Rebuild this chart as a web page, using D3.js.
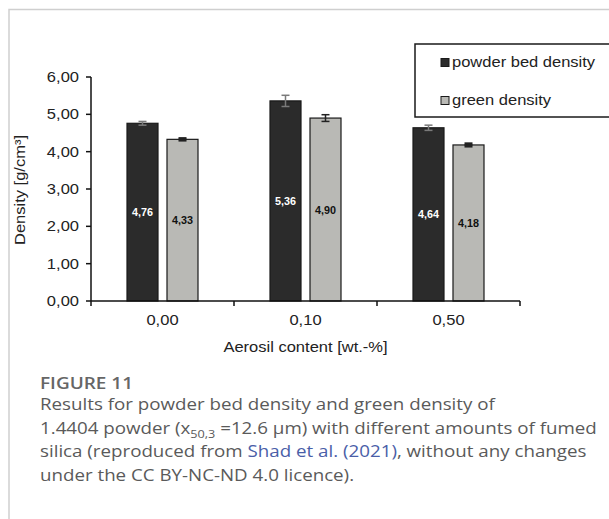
<!DOCTYPE html>
<html>
<head>
<meta charset="utf-8">
<script src="https://cdn.jsdelivr.net/npm/d3@7"></script>
<style>
  html, body { margin: 0; padding: 0; background: #fff; }
  svg { display: block; }
</style>
</head>
<body>
<script>
// Aerosil content levels and the two density series (g/cm³)
const categories = ["0,00", "0,10", "0,50"];
const seriesNames = ["powder bed density", "green density"];
const powderBedDensity = [4.76, 5.36, 4.64];
const greenDensity = [4.33, 4.90, 4.18];
const powderBedError = [0.05, 0.15, 0.07];
const greenError = [0.02, 0.09, 0.03];
const yTicks = [0, 1, 2, 3, 4, 5, 6];
const captionTitle = "FIGURE 11";

const W = 609, H = 519;
const svg = d3.select("body").append("svg").attr("width", W).attr("height", H);

const fmt = v => d3.format(".2f")(v).replace(".", ",");
const chartFont = "'Liberation Sans', Arial, sans-serif";
const SX = 1.18; // wide-set chart lettering

// panel frame (top and left rules)
svg.append("path")
  .attr("d", `M9,${H} L9,9.5 L${W},9.5`)
  .attr("fill", "none").attr("stroke", "#cfcfcf").attr("stroke-width", 1.5);

const x0 = d3.scaleBand().domain(categories).range([91, 520]).paddingInner(0).paddingOuter(0);
const x1 = d3.scaleBand().domain(seriesNames).range([0, x0.bandwidth()])
  .paddingInner(0.225).paddingOuter(0.9);
const y = d3.scaleLinear().domain([0, 6]).range([301, 77]);

const colors = { "powder bed density": "#2b2b2b", "green density": "#b9b9b5" };
const errColors = { "powder bed density": "#7a7a7a", "green density": "#222" };
const labelColors = { "powder bed density": "#ffffff", "green density": "#111" };

const rows = categories.map((c, i) => ({
  cat: c,
  vals: [
    { s: seriesNames[0], v: powderBedDensity[i], e: powderBedError[i] },
    { s: seriesNames[1], v: greenDensity[i], e: greenError[i] }
  ]
}));

function stext(g, x, yy, str, opts) {
  const t = g.append("text")
    .attr("transform", `translate(${x},${yy}) scale(${opts.sx || SX},1)`)
    .attr("font-family", opts.family || chartFont)
    .attr("font-size", opts.size || 14)
    .attr("font-weight", opts.weight || "normal")
    .attr("fill", opts.fill || "#222")
    .attr("text-anchor", opts.anchor || "start")
    .text(str);
  return t;
}

// bars
const groups = svg.append("g").selectAll("g").data(rows).join("g")
  .attr("transform", d => `translate(${x0(d.cat)},0)`);

groups.selectAll("rect").data(d => d.vals).join("rect")
  .attr("x", d => x1(d.s))
  .attr("y", d => y(d.v))
  .attr("width", x1.bandwidth())
  .attr("height", d => y(0) - y(d.v))
  .attr("fill", d => colors[d.s])
  .attr("stroke", "#1a1a1a").attr("stroke-width", 1.2);

// error bars
groups.each(function(d) {
  const g = d3.select(this);
  d.vals.forEach(v => {
    const cx = x1(v.s) + x1.bandwidth() / 2;
    const c = errColors[v.s];
    const sw = v.e < 0.04 ? 3 : 1.5;
    g.append("line").attr("x1", cx).attr("x2", cx)
      .attr("y1", y(v.v + v.e)).attr("y2", y(v.v - v.e))
      .attr("stroke", c).attr("stroke-width", 1.5);
    [v.v + v.e, v.v - v.e].forEach(yy => {
      g.append("line").attr("x1", cx - 4).attr("x2", cx + 4)
        .attr("y1", y(yy)).attr("y2", y(yy))
        .attr("stroke", c).attr("stroke-width", sw);
    });
    // value label at mid-height of the bar
    stext(g, cx, y(v.v / 2) + 4, fmt(v.v), {
      size: 10, weight: "bold", anchor: "middle", fill: labelColors[v.s], sx: 1.08
    });
  });
});

// y axis
const yAxis = svg.append("g").attr("transform", "translate(91,0)");
yAxis.append("line").attr("x1", 0).attr("x2", 0).attr("y1", y(0)).attr("y2", y(6))
  .attr("stroke", "#111").attr("stroke-width", 1.5);
yTicks.forEach(t => {
  yAxis.append("line").attr("x1", -5).attr("x2", 0).attr("y1", y(t)).attr("y2", y(t))
    .attr("stroke", "#111").attr("stroke-width", 1.5);
  stext(yAxis, -12, y(t) + 5, fmt(t), { anchor: "end" });
});

// x axis
const xAxis = svg.append("g");
xAxis.append("line").attr("x1", 91).attr("x2", 520).attr("y1", y(0)).attr("y2", y(0))
  .attr("stroke", "#111").attr("stroke-width", 1.5);
const boundaries = categories.map(c => x0(c)).concat([x0(categories[categories.length - 1]) + x0.bandwidth()]);
boundaries.forEach(b => {
  xAxis.append("line").attr("x1", b).attr("x2", b).attr("y1", y(0)).attr("y2", y(0) + 5)
    .attr("stroke", "#111").attr("stroke-width", 1.5);
});
categories.forEach(c => {
  stext(xAxis, x0(c) + x0.bandwidth() / 2, 325, c, { anchor: "middle" });
});
stext(svg, 305.5, 352, "Aerosil content [wt.-%]", { anchor: "middle" });

// y title
const yt = svg.append("g").attr("transform", "translate(25,190) rotate(-90)");
stext(yt, 0, 0, "Density [g/cm³]", { anchor: "middle" });

// legend
const lg = svg.append("g");
lg.append("rect").attr("x", 415).attr("y", 44).attr("width", 220).attr("height", 73)
  .attr("fill", "#fff").attr("stroke", "#1a1a1a").attr("stroke-width", 1.5);
seriesNames.forEach((s, i) => {
  const yy = 67 + i * 38;
  lg.append("rect").attr("x", 441).attr("y", yy - 8.5).attr("width", 8).attr("height", 8)
    .attr("fill", colors[s]).attr("stroke", "#1a1a1a").attr("stroke-width", 1);
  stext(lg, 452, yy, s, {});
});

// caption
const capFont = "'Open Sans', 'Noto Sans', sans-serif";
const CSX = 1.15;
svg.append("text").attr("transform", `translate(40,389) scale(${CSX},1)`)
  .attr("font-family", capFont).attr("font-size", 16.5).attr("font-weight", 600)
  .attr("fill", "#666").text(captionTitle);

const capLines = [
  [{ t: "Results for powder bed density and green density of" }],
  [{ t: "1.4404 powder (x" }, { t: "50,3", sub: true }, { t: " =12.6 μm) with different amounts of fumed" }],
  [{ t: "silica (reproduced from " }, { t: "Shad et al. (2021)", link: true }, { t: ", without any changes" }],
  [{ t: "under the CC BY-NC-ND 4.0 licence)." }]
];
capLines.forEach((parts, i) => {
  const t = svg.append("text")
    .attr("transform", `translate(40,${410 + i * 23.5}) scale(${CSX},1)`)
    .attr("font-family", capFont).attr("font-size", 16.3).attr("fill", "#5a5a5a");
  parts.forEach(p => {
    const ts = t.append("tspan").text(p.t);
    if (p.link) ts.attr("fill", "#4a5ea8");
    if (p.sub) ts.attr("font-size", 11).attr("dy", 4);
    else if (parts.some(q => q.sub) && parts.indexOf(p) > 0) ts.attr("dy", -4);
  });
});
</script>
</body>
</html>
